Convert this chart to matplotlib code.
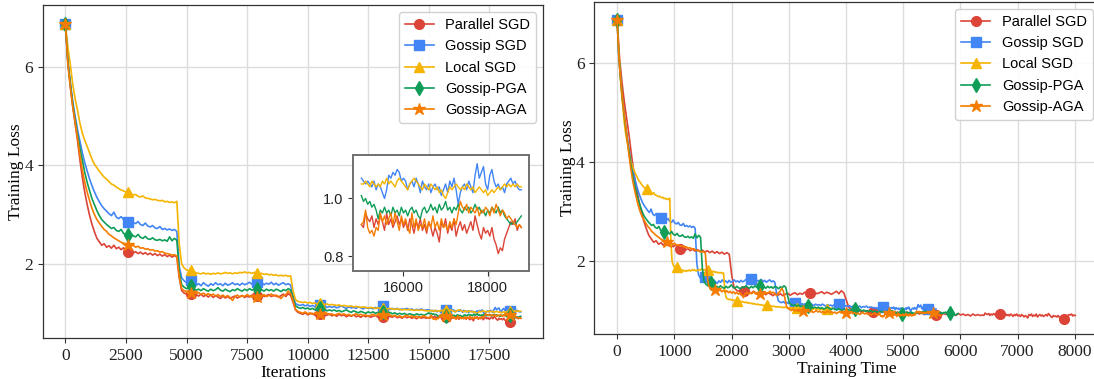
import numpy as np
import matplotlib.pyplot as plt

# x grid: every 100 iterations up to 15000, then every 50 (zoomed part)
iterations = list(range(0, 15000, 100)) + list(range(15000, 18801, 50))

methods = ['Parallel SGD', 'Gossip SGD', 'Local SGD', 'Gossip-PGA', 'Gossip-AGA']
colors = ['#DB4437', '#4285F4', '#F4B400', '#0F9D58', '#F57C00']
markers = ['o', 's', '^', 'd', '*']

# seconds of training per iteration:
# (from iteration, rate) pairs, Gossip-AGA gets cheaper after the first lr decay
sec_per_iter = [
    [(0, 0.426)],
    [(0, 0.2965)],
    [(0, 0.2)],
    [(0, 0.317)],
    [(0, 0.335), (4700, 0.29)],
]

parallel_loss = [
    6.87, 6.1, 5.6, 5.2, 4.85, 4.5, 4.1, 3.75, 3.45, 3.2,
    2.98, 2.8, 2.65, 2.52, 2.45, 2.38, 2.41, 2.34, 2.37, 2.32,
    2.38, 2.31, 2.34, 2.29, 2.33, 2.26, 2.24, 2.27, 2.22, 2.25,
    2.21, 2.24, 2.2, 2.23, 2.19, 2.22, 2.18, 2.21, 2.17, 2.2,
    2.16, 2.19, 2.15, 2.18, 2.14, 2.17, 2.14, 1.72, 1.46, 1.41,
    1.39, 1.37, 1.4, 1.36, 1.38, 1.35, 1.39, 1.34, 1.37, 1.33,
    1.38, 1.32, 1.36, 1.33, 1.3, 1.35, 1.31, 1.34, 1.3, 1.33,
    1.35, 1.31, 1.34, 1.36, 1.32, 1.35, 1.33, 1.37, 1.34, 1.36,
    1.33, 1.37, 1.34, 1.36, 1.38, 1.34, 1.37, 1.35, 1.33, 1.36,
    1.39, 1.34, 1.4, 1.36, 1.22, 1.07, 1.02, 1.0, 0.98, 1.01,
    0.97, 0.99, 1.0, 0.96, 0.99, 0.98, 0.95, 0.98, 0.96, 0.99,
    0.95, 0.97, 0.94, 0.98, 0.95, 0.97, 0.93, 0.96, 0.94, 0.97,
    0.93, 0.95, 0.92, 0.96, 0.93, 0.95, 0.92, 0.94, 0.96, 0.92,
    0.94, 0.92, 0.95, 0.91, 0.94, 0.92, 0.95, 0.91, 0.93, 0.9,
    0.94, 0.91, 0.93, 0.9, 0.92, 0.89, 0.93, 0.9, 0.92, 0.9,
    # 15000 .. 18800, step 50
    0.91, 0.9, 0.95, 0.93, 0.92, 0.94, 0.9, 0.93, 0.91, 0.94,
    0.92, 0.89, 0.95, 0.91, 0.93, 0.9, 0.92, 0.94, 0.91, 0.93,
    0.9, 0.92, 0.89, 0.93, 0.91, 0.88, 0.92, 0.9, 0.93, 0.89,
    0.91, 0.88, 0.92, 0.9, 0.87, 0.9, 0.88, 0.85, 0.92, 0.9,
    0.93, 0.88, 0.91, 0.89, 0.93, 0.87, 0.9, 0.92, 0.89, 0.91,
    0.88, 0.9, 0.92, 0.89, 0.94, 0.91, 0.88, 0.86, 0.9, 0.88,
    0.89, 0.87, 0.9, 0.86, 0.84, 0.81, 0.83, 0.82, 0.86, 0.88,
    0.9, 0.92, 0.91, 0.93, 0.89, 0.91, 0.9]

gossip_loss = [
    6.87, 6.1, 5.7, 5.3, 5.0, 4.72, 4.48, 4.25, 4.05, 3.88,
    3.72, 3.58, 3.46, 3.35, 3.26, 3.18, 3.12, 3.07, 3.02, 2.98,
    3.05, 2.95, 2.92, 2.96, 2.9, 2.87, 2.86, 2.9, 2.84, 2.82,
    2.86, 2.8, 2.78, 2.83, 2.77, 2.75, 2.78, 2.73, 2.72, 2.76,
    2.7, 2.72, 2.69, 2.71, 2.68, 2.7, 2.66, 1.95, 1.72, 1.66,
    1.62, 1.6, 1.68, 1.6, 1.57, 1.6, 1.56, 1.62, 1.58, 1.55,
    1.6, 1.57, 1.62, 1.58, 1.6, 1.56, 1.61, 1.57, 1.59, 1.62,
    1.58, 1.6, 1.57, 1.61, 1.58, 1.6, 1.63, 1.59, 1.61, 1.64,
    1.6, 1.62, 1.58, 1.61, 1.59, 1.63, 1.58, 1.61, 1.57, 1.6,
    1.62, 1.58, 1.6, 1.57, 1.35, 1.2, 1.17, 1.16, 1.18, 1.15,
    1.17, 1.14, 1.16, 1.13, 1.15, 1.16, 1.13, 1.15, 1.12, 1.14,
    1.12, 1.14, 1.11, 1.13, 1.15, 1.12, 1.1, 1.13, 1.11, 1.12,
    1.1, 1.13, 1.11, 1.09, 1.12, 1.1, 1.11, 1.09, 1.12, 1.1,
    1.11, 1.14, 1.09, 1.11, 1.08, 1.1, 1.08, 1.1, 1.07, 1.09,
    1.08, 1.1, 1.07, 1.09, 1.06, 1.08, 1.07, 1.09, 1.06, 1.07,
    1.07, 1.06, 1.05, 1.06, 1.05, 1.04, 1.06, 1.03, 1.05, 1.04,
    1.02, 1.0, 1.03, 1.08, 1.07, 1.09, 1.08, 1.1, 1.09, 1.06,
    1.07, 1.06, 1.03, 1.05, 1.06, 1.04, 1.07, 1.05, 1.02, 1.06,
    1.04, 1.03, 1.05, 1.02, 1.04, 1.05, 1.03, 1.04, 1.01, 1.03,
    1.05, 1.02, 1.06, 1.04, 1.07, 1.03, 0.98, 1.02, 1.04, 1.05,
    1.03, 1.06, 1.04, 1.02, 1.08, 1.12, 1.07, 1.09, 1.11, 1.05,
    1.03, 1.08, 1.1, 1.06, 1.04, 1.05, 1.03, 1.04, 1.02, 1.05,
    1.06, 1.07, 1.05, 1.06, 1.04, 1.03, 1.03]

local_loss = [
    6.87, 6.4, 6.05, 5.65, 5.35, 5.12, 4.85, 4.65, 4.5, 4.38,
    4.25, 4.12, 4.02, 3.95, 3.88, 3.82, 3.76, 3.72, 3.67, 3.62,
    3.6, 3.56, 3.53, 3.5, 3.48, 3.46, 3.45, 3.42, 3.4, 3.41,
    3.37, 3.36, 3.38, 3.34, 3.33, 3.32, 3.3, 3.31, 3.29, 3.28,
    3.29, 3.26, 3.27, 3.25, 3.26, 3.24, 3.27, 2.4, 2.0, 1.92,
    1.88, 1.86, 1.88, 1.84, 1.82, 1.81, 1.8, 1.82, 1.8, 1.81,
    1.79, 1.81, 1.8, 1.82, 1.8, 1.81, 1.83, 1.81, 1.82, 1.8,
    1.82, 1.81, 1.83, 1.82, 1.84, 1.82, 1.83, 1.81, 1.83, 1.82,
    1.8, 1.81, 1.79, 1.8, 1.78, 1.79, 1.77, 1.78, 1.76, 1.77,
    1.76, 1.77, 1.75, 1.76, 1.45, 1.28, 1.24, 1.23, 1.22, 1.23,
    1.21, 1.22, 1.2, 1.21, 1.19, 1.2, 1.19, 1.18, 1.19, 1.17,
    1.18, 1.17, 1.16, 1.17, 1.15, 1.16, 1.15, 1.14, 1.15, 1.13,
    1.14, 1.13, 1.12, 1.13, 1.12, 1.11, 1.12, 1.11, 1.1, 1.11,
    1.1, 1.11, 1.1, 1.09, 1.1, 1.09, 1.08, 1.09, 1.08, 1.07,
    1.08, 1.07, 1.08, 1.07, 1.06, 1.07, 1.06, 1.07, 1.06, 1.05,
    1.05, 1.05, 1.06, 1.05, 1.04, 1.06, 1.05, 1.04, 1.05, 1.04,
    1.06, 1.05, 1.07, 1.05, 1.06, 1.05, 1.04, 1.06, 1.07, 1.06,
    1.05, 1.04, 1.03, 1.05, 1.06, 1.07, 1.06, 1.05, 1.04, 1.03,
    1.05, 1.04, 1.03, 1.05, 1.04, 1.03, 1.04, 1.02, 1.03, 1.01,
    1.0, 1.02, 1.04, 1.03, 1.04, 1.05, 1.04, 1.03, 1.04, 1.03,
    1.05, 1.04, 1.03, 1.04, 1.02, 1.03, 1.04, 1.03, 1.02, 1.03,
    1.01, 1.02, 1.03, 1.02, 1.03, 1.04, 1.03, 1.04, 1.05, 1.04,
    1.05, 1.04, 1.05, 1.04, 1.05, 1.04, 1.04]

pga_loss = [
    6.87, 6.1, 5.65, 5.25, 4.92, 4.62, 4.35, 4.1, 3.85, 3.65,
    3.48, 3.32, 3.2, 3.08, 2.98, 2.9, 2.85, 2.8, 2.76, 2.72,
    2.74, 2.68, 2.66, 2.7, 2.62, 2.6, 2.59, 2.62, 2.57, 2.55,
    2.6, 2.54, 2.52, 2.56, 2.51, 2.5, 2.53, 2.49, 2.48, 2.5,
    2.47, 2.49, 2.46, 2.55, 2.47, 2.52, 2.48, 1.85, 1.58, 1.53,
    1.5, 1.52, 1.55, 1.5, 1.47, 1.49, 1.46, 1.5, 1.47, 1.45,
    1.49, 1.46, 1.48, 1.52, 1.47, 1.45, 1.49, 1.46, 1.44, 1.48,
    1.46, 1.5, 1.47, 1.45, 1.49, 1.46, 1.5, 1.47, 1.49, 1.5,
    1.46, 1.48, 1.45, 1.49, 1.46, 1.48, 1.45, 1.49, 1.47, 1.44,
    1.48, 1.46, 1.5, 1.47, 1.3, 1.15, 1.12, 1.1, 1.12, 1.09,
    1.11, 1.08, 1.1, 1.07, 1.09, 1.1, 1.06, 1.08, 1.05, 1.07,
    1.05, 1.07, 1.04, 1.06, 1.03, 1.05, 1.07, 1.04, 1.02, 1.05,
    1.03, 1.01, 1.04, 1.02, 1.0, 1.03, 1.01, 1.03, 1.0, 1.02,
    1.0, 1.03, 1.0, 0.99, 1.02, 0.99, 1.01, 0.98, 1.0, 0.98,
    1.0, 0.97, 0.99, 0.98, 0.96, 0.99, 0.97, 0.98, 0.96, 0.98,
    1.01, 0.99, 1.0, 0.98, 0.99, 0.97, 0.98, 0.96, 0.93, 0.96,
    0.95, 0.97, 0.95, 0.96, 0.94, 0.97, 0.95, 0.96, 0.94, 0.97,
    0.95, 0.96, 0.94, 0.96, 0.97, 0.95, 0.96, 0.94, 0.93, 0.96,
    0.97, 0.95, 0.96, 0.98, 0.96, 0.97, 0.95, 0.98, 0.96, 0.97,
    0.99, 0.96, 0.97, 0.95, 0.97, 0.96, 0.98, 0.96, 0.95, 0.97,
    0.96, 0.97, 0.95, 0.96, 0.98, 0.96, 0.97, 0.95, 0.96, 0.94,
    0.96, 0.95, 0.97, 0.96, 0.95, 0.97, 0.95, 0.96, 0.94, 0.93,
    0.92, 0.91, 0.92, 0.91, 0.92, 0.93, 0.94]

aga_loss = [
    6.87, 6.05, 5.6, 5.2, 4.88, 4.55, 4.2, 3.9, 3.65, 3.45,
    3.28, 3.12, 3.0, 2.9, 2.83, 2.76, 2.7, 2.66, 2.6, 2.57,
    2.53, 2.5, 2.47, 2.44, 2.42, 2.4, 2.39, 2.36, 2.38, 2.34,
    2.36, 2.32, 2.33, 2.3, 2.31, 2.28, 2.29, 2.26, 2.27, 2.24,
    2.25, 2.22, 2.21, 2.2, 2.18, 2.19, 2.16, 1.75, 1.5, 1.46,
    1.44, 1.45, 1.42, 1.43, 1.4, 1.42, 1.38, 1.41, 1.37, 1.4,
    1.36, 1.39, 1.35, 1.38, 1.34, 1.37, 1.33, 1.36, 1.32, 1.26,
    1.34, 1.37, 1.33, 1.36, 1.34, 1.38, 1.35, 1.33, 1.36, 1.34,
    1.37, 1.35, 1.38, 1.34, 1.36, 1.39, 1.35, 1.37, 1.34, 1.3,
    1.36, 1.38, 1.45, 1.4, 1.25, 1.08, 1.04, 1.02, 1.0, 1.03,
    0.99, 1.01, 0.98, 1.0, 1.02, 0.99, 1.01, 0.98, 1.0, 0.97,
    0.99, 0.96, 0.98, 1.0, 0.97, 0.99, 0.96, 0.98, 0.95, 0.97,
    0.99, 0.96, 0.98, 0.95, 0.97, 0.94, 0.96, 0.98, 0.95, 0.97,
    0.94, 0.96, 0.93, 0.95, 0.97, 0.94, 0.96, 0.93, 0.95, 0.92,
    0.94, 0.96, 0.93, 0.95, 0.92, 0.94, 0.91, 0.93, 0.95, 0.92,
    0.91, 0.92, 0.96, 0.9, 0.88, 0.89, 0.87, 0.9, 0.89, 0.95,
    0.92, 0.94, 0.91, 0.93, 0.95, 0.91, 0.95, 0.92, 0.89, 0.94,
    0.91, 0.93, 0.9, 0.88, 0.95, 0.9, 0.93, 0.89, 0.91, 0.9,
    0.93, 0.89, 0.92, 0.9, 0.94, 0.9, 0.92, 0.89, 0.93, 0.9,
    0.91, 0.89, 0.92, 0.9, 0.93, 0.91, 0.95, 0.99, 0.97, 0.96,
    0.98, 0.95, 0.97, 0.96, 0.95, 0.97, 0.94, 0.96, 0.95, 0.97,
    0.96, 0.94, 0.97, 0.95, 0.98, 0.96, 0.94, 0.96, 0.95, 0.93,
    0.94, 0.93, 0.92, 0.91, 0.9, 0.91, 0.9]

losses = [parallel_loss, gossip_loss, local_loss, pga_loss, aga_loss]

mark_iters = [0, 2600, 5200, 7900, 10500, 13100, 15700, 18350]
inset_start = 15000


def to_time(it, rates):
    # accumulate wall-clock time step by step with the rate of each segment
    step = np.diff(it, prepend=0).astype(float)
    r = np.zeros(len(it))
    for start, rate in rates:
        r[it >= start] = rate
    return np.cumsum(step * r)


plt.rcParams['font.family'] = 'serif'
plt.rcParams['font.serif'] = ['Liberation Serif', 'DejaVu Serif']
plt.rcParams['font.size'] = 12
plt.rcParams['axes.edgecolor'] = '#333333'
plt.rcParams['axes.linewidth'] = 0.9
plt.rcParams['xtick.color'] = '#333333'
plt.rcParams['ytick.color'] = '#333333'
plt.rcParams['xtick.labelcolor'] = '#222222'
plt.rcParams['ytick.labelcolor'] = '#222222'

sans = 'Liberation Sans'

fig = plt.figure(figsize=(10.94, 3.79), dpi=100)
ax1 = fig.add_axes([0.0390, 0.1082, 0.4578, 0.8786])
ax2 = fig.add_axes([0.5432, 0.1179, 0.4622, 0.8776])

it = np.array(iterations)
marks = [iterations.index(v) for v in mark_iters]

for name, c, m, y, rates in zip(methods, colors, markers, losses, sec_per_iter):
    ms = 9 if m == '*' else 7
    ax1.plot(it, y, color=c, lw=1.2, marker=m, ms=ms, markevery=marks, label=name)
    ax2.plot(to_time(it, rates), y, color=c, lw=1.2, marker=m, ms=ms,
             markevery=marks, label=name)

for ax in (ax1, ax2):
    ax.grid(True, color='#dcdcdc', lw=1.0)
    ax.set_axisbelow(True)
    ax.set_yticks([2, 4, 6])
    ax.tick_params(direction='out', length=3.5, width=0.8, labelsize=12.5)
    ax.set_ylabel('Training Loss', fontsize=12.5, labelpad=0)
    ax.legend(loc='upper right', prop={'family': sans, 'size': 10.5},
              labelspacing=0.5, framealpha=0.9, edgecolor='#cccccc',
              borderaxespad=0.5)

ax1.set_xlim(-940, 19740)
ax1.set_ylim(0.50, 7.25)
ax1.set_xticks(np.arange(0, 17501, 2500))
ax1.set_xlabel('Iterations', fontsize=12.5, labelpad=1)

ax2.set_xlim(-400, 8440)
ax2.set_ylim(0.52, 7.24)
ax2.set_xticks(np.arange(0, 8001, 1000))
ax2.set_xlabel('Training Time', fontsize=12.5, labelpad=1)

# zoomed inset of the last iterations
axin = fig.add_axes([0.3230, 0.2850, 0.1609, 0.3061])
k = iterations.index(inset_start)
for c, y in zip(colors, losses):
    axin.plot(it[k:], y[k:], color=c, lw=1.0)
axin.set_ylim(0.75, 1.15)
axin.set_xticks([16000, 18000])
axin.set_yticks([0.8, 1.0])
axin.set_yticklabels(['0.8', '1.0'])
axin.tick_params(direction='out', length=3.5, width=0.8, labelsize=10.5,
                 labelfontfamily=sans)
for sp in axin.spines.values():
    sp.set_color('#707070')
    sp.set_linewidth(1.4)

fig.savefig('out.png', dpi=100)
